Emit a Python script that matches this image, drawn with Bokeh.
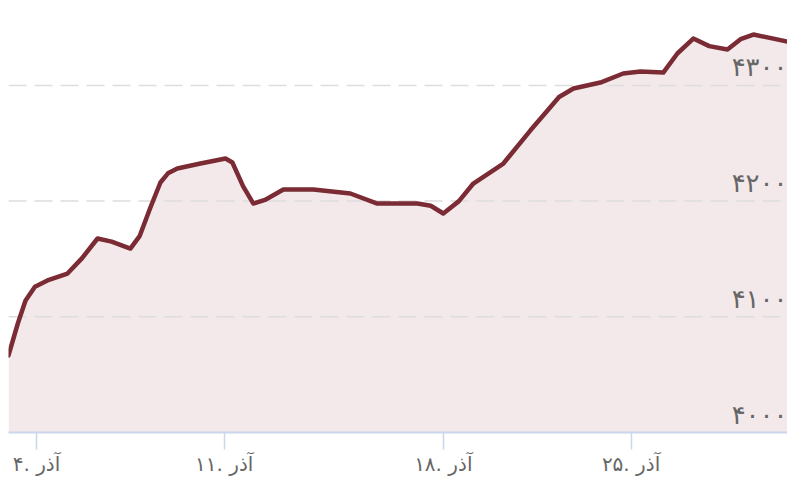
from bokeh.plotting import figure
from bokeh.models import Range1d, FixedTicker, ColumnDataSource
from bokeh.core.properties import value
from bokeh.embed import file_html
from bokeh.resources import INLINE

# data (position in trading days, index value)
day_pos = [0.105, 0.4, 0.65, 0.95, 1.35, 1.99, 2.45, 2.95, 3.4, 4.0, 4.3, 4.64, 4.96,
           5.2, 5.5, 6.24, 7.04, 7.26, 7.6, 7.93, 8.3, 8.89, 9.85, 11.03, 11.89,
           13.17, 13.6, 14.0, 14.5, 14.96, 15.92, 16.78, 17.33, 17.7, 18.16, 19.02,
           19.75, 20.3, 21.03, 21.48, 21.99, 22.5, 23.08, 23.5, 23.91, 25.0]
index_val = [4066.6, 4094.0, 4114.1, 4126.0, 4131.4, 4137.4, 4150.5, 4167.7, 4165.0,
             4159.0, 4170.0, 4194.5, 4216.1, 4224.0, 4228.2, 4232.5, 4236.8, 4233.4,
             4213.0, 4197.9, 4201.0, 4210.0, 4210.0, 4206.6, 4197.9, 4197.9, 4196.0,
             4189.3, 4200.0, 4215.2, 4232.5, 4261.0, 4278.3, 4290.0, 4297.3, 4302.5,
             4310.3, 4312.0, 4311.1, 4327.6, 4340.5, 4334.0, 4331.0, 4340.0, 4344.0,
             4337.9]

x_ticks = [1, 7, 14, 20]
x_tick_labels = ["۴. آذر", "۱۱. آذر", "۱۸. آذر", "۲۵. آذر"]
y_ticks = [4000, 4100, 4200, 4300]
y_tick_labels = ["۴۰۰۰", "۴۱۰۰", "۴۲۰۰", "۴۳۰۰"]

FONT = "DejaVu Sans"
LINE = "#7a2b34"
FILL = "#f3e9ea"

p = figure(frame_width=779, frame_height=424, output_backend="svg",
           toolbar_location=None, x_range=Range1d(day_pos[0], day_pos[-1]),
           y_range=Range1d(4000, 4366.5), min_border_left=8, min_border_right=0,
           min_border_top=8, min_border_bottom=0)
p.outline_line_color = None
p.background_fill_color = "white"
p.border_fill_color = "white"

src = ColumnDataSource(dict(x=day_pos, y=index_val, y0=[4000] * len(day_pos)))
p.varea(x="x", y1="y0", y2="y", source=src, fill_color=FILL)

# dashed grid lines (not at the baseline)
for yt in y_ticks[1:]:
    p.line(x=[day_pos[0], day_pos[-1]], y=[yt, yt], line_color="#dddddd",
           line_width=1.5, line_dash="18 8")

p.line(x="x", y="y", source=src, line_color=LINE, line_width=4.5,
       line_join="round", line_cap="round")

# y labels inside the plot, right aligned above grid lines
lab = ColumnDataSource(dict(x=[day_pos[-1]] * len(y_ticks), y=y_ticks, t=y_tick_labels))
p.text(x="x", y="y", text="t", source=lab, text_align="right",
       text_baseline="bottom", y_offset=-3, text_font=value(FONT),
       text_font_size="26px", text_color="#666666")

p.yaxis.visible = False
p.xgrid.visible = False
p.ygrid.visible = False

ax = p.xaxis[0]
ax.ticker = FixedTicker(ticks=x_ticks)
ax.major_label_overrides = {t: l for t, l in zip(x_ticks, x_tick_labels)}
ax.axis_line_color = "#ccd6eb"
ax.axis_line_width = 2
ax.major_tick_line_color = "#ccd6eb"
ax.major_tick_line_width = 1.5
ax.major_tick_out = 17
ax.major_tick_in = 0
ax.minor_tick_line_color = None
ax.major_label_standoff = 2
ax.major_label_text_font = FONT
ax.major_label_text_font_size = "20px"
ax.major_label_text_color = "#666666"

open("out.html", "w").write(file_html(p, INLINE))
